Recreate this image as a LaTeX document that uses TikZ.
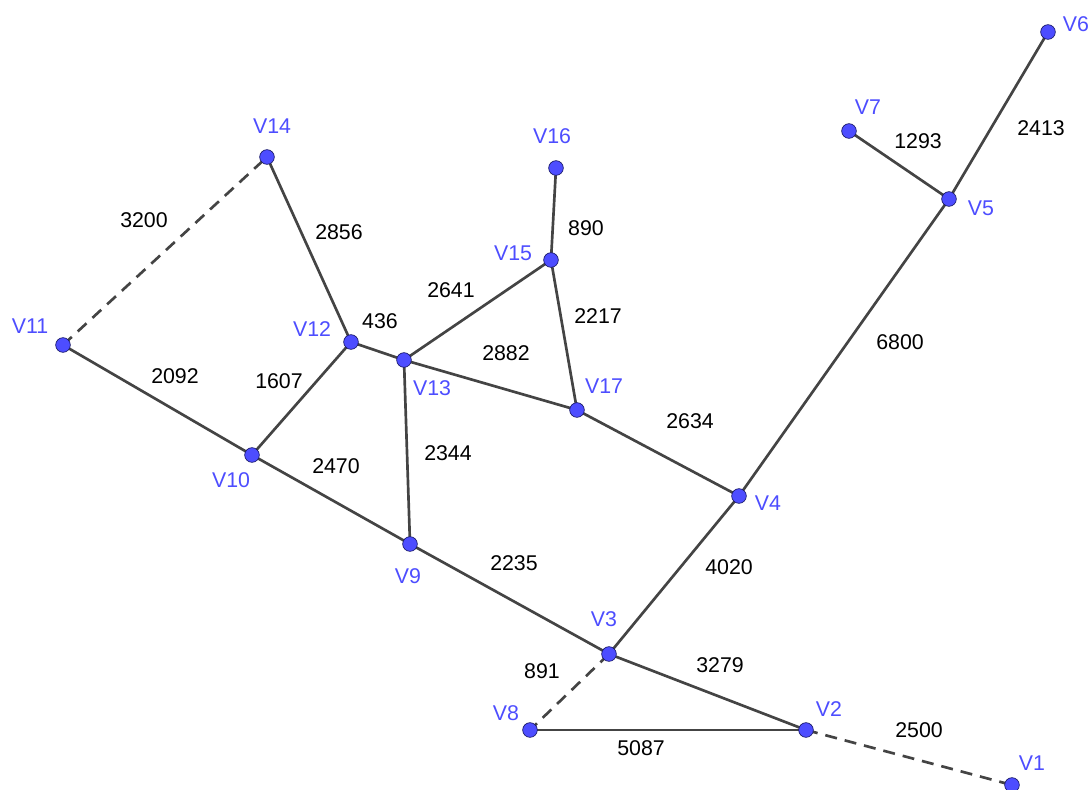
\documentclass[tikz,border=0pt]{standalone}
\usepackage{fontspec}
\setmainfont{Liberation Sans}
\definecolor{edgecol}{HTML}{444444}
\definecolor{ptfill}{HTML}{4D4DFF}
\definecolor{ptdraw}{HTML}{1A1A66}
\definecolor{lblblue}{HTML}{4D4DFF}
\begin{document}
\begin{tikzpicture}[x=0.75pt,y=-0.75pt,
  edge/.style={draw=edgecol,line width=2pt},
  dashedge/.style={edge,dash pattern=on 9pt off 6pt},
  pt/.style={circle,fill=ptfill,draw=ptdraw,line width=0.5pt,inner sep=0pt,minimum size=11pt},
  vlab/.style={text=lblblue,font=\fontsize{16}{19}\selectfont,inner sep=0pt},
  wlab/.style={text=black,font=\fontsize{16}{19}\selectfont,inner sep=0pt}]
\useasboundingbox (0,0) rectangle (1092,789);
% vertex positions
\coordinate (v1) at (1012,785);
\coordinate (v2) at (806,730);
\coordinate (v3) at (609,654);
\coordinate (v4) at (739,496);
\coordinate (v5) at (949,199);
\coordinate (v6) at (1048,32);
\coordinate (v7) at (849,131);
\coordinate (v8) at (530,730);
\coordinate (v9) at (410,544);
\coordinate (v10) at (252,455);
\coordinate (v11) at (63,345);
\coordinate (v12) at (351,342);
\coordinate (v13) at (404,360);
\coordinate (v14) at (267,157);
\coordinate (v15) at (551,260);
\coordinate (v16) at (556,168);
\coordinate (v17) at (577,410);
% edges
\draw[dashedge] (v2) -- (v1);
\draw[edge] (v2) -- (v3);
\draw[edge] (v2) -- (v8);
\draw[dashedge] (v3) -- (v8);
\draw[edge] (v3) -- (v4);
\draw[edge] (v3) -- (v9);
\draw[edge] (v4) -- (v5);
\draw[edge] (v4) -- (v17);
\draw[edge] (v5) -- (v6);
\draw[edge] (v5) -- (v7);
\draw[edge] (v9) -- (v10);
\draw[edge] (v9) -- (v13);
\draw[edge] (v10) -- (v11);
\draw[edge] (v10) -- (v12);
\draw[dashedge] (v11) -- (v14);
\draw[edge] (v12) -- (v14);
\draw[edge] (v12) -- (v13);
\draw[edge] (v13) -- (v15);
\draw[edge] (v13) -- (v17);
\draw[edge] (v15) -- (v16);
\draw[edge] (v15) -- (v17);
% points
\foreach \i in {1,...,17} {\node[pt] (p\i) at (v\i) {};}
% vertex labels
\node[vlab] (l1) at (1032,763) {V1};
\node[vlab] (l2) at (829,709) {V2};
\node[vlab] (l3) at (604,619) {V3};
\node[vlab] (l4) at (768,503) {V4};
\node[vlab] (l5) at (981,208) {V5};
\node[vlab] (l6) at (1076,24) {V6};
\node[vlab] (l7) at (868,107) {V7};
\node[vlab] (l8) at (506,713) {V8};
\node[vlab] (l9) at (408,576) {V9};
\node[vlab] (l10) at (231,480) {V10};
\node[vlab] (l11) at (30,326) {V11};
\node[vlab] (l12) at (312,329) {V12};
\node[vlab] (l13) at (432,388) {V13};
\node[vlab] (l14) at (272,126) {V14};
\node[vlab] (l15) at (513,253) {V15};
\node[vlab] (l16) at (552,136) {V16};
\node[vlab] (l17) at (604,386) {V17};
% weights
\node[wlab] (w1) at (919,730) {2500};
\node[wlab] (w2) at (720,665) {3279};
\node[wlab] (w3) at (641,748) {5087};
\node[wlab] (w4) at (542,671) {891};
\node[wlab] (w5) at (729,567) {4020};
\node[wlab] (w6) at (514,563) {2235};
\node[wlab] (w7) at (900,342) {6800};
\node[wlab] (w8) at (690,421) {2634};
\node[wlab] (w9) at (1041,128) {2413};
\node[wlab] (w10) at (918,141) {1293};
\node[wlab] (w11) at (336,466) {2470};
\node[wlab] (w12) at (448,453) {2344};
\node[wlab] (w13) at (175,376) {2092};
\node[wlab] (w14) at (279,381) {1607};
\node[wlab] (w15) at (144,220) {3200};
\node[wlab] (w16) at (339,232) {2856};
\node[wlab] (w17) at (380,321) {436};
\node[wlab] (w18) at (451,290) {2641};
\node[wlab] (w19) at (506,353) {2882};
\node[wlab] (w20) at (586,228) {890};
\node[wlab] (w21) at (598,316) {2217};
\end{tikzpicture}
\end{document}
